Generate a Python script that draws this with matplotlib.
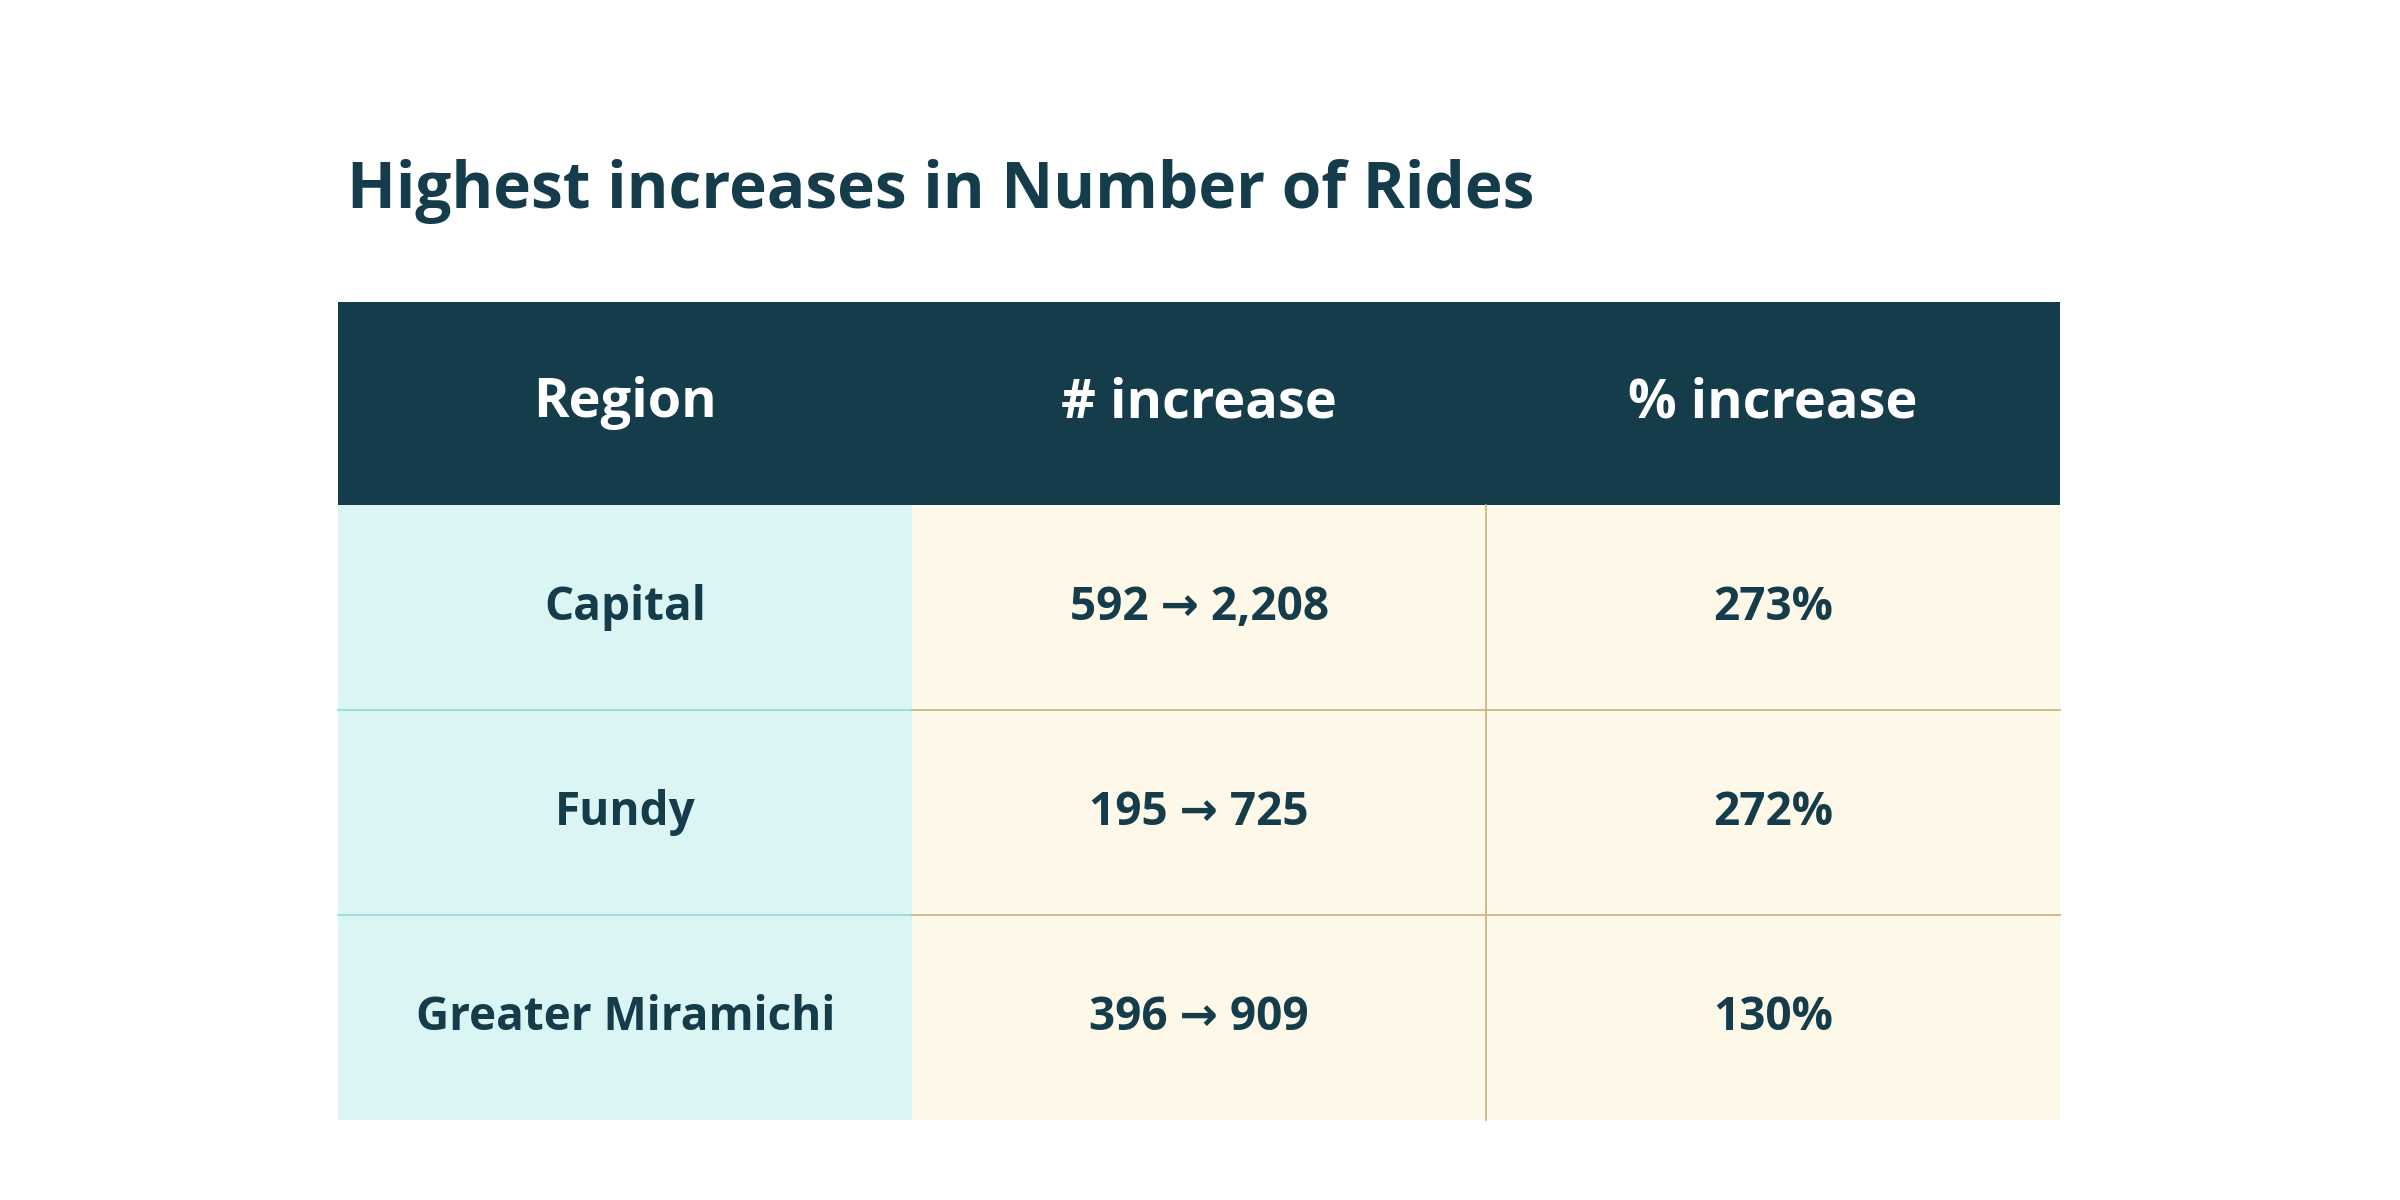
import matplotlib
matplotlib.use("Agg")
import matplotlib.pyplot as plt
from matplotlib.patches import Rectangle

title = "Highest increases in Number of Rides"
headers = ["Region", "# increase", "% increase"]
regions = ["Capital", "Fundy", "Greater Miramichi"]
before = [592, 195, 396]
after = [2208, 725, 909]
pct = [273, 272, 130]

DARK = "#143c4a"
CYAN = "#dbf5f5"
CREAM = "#fef8e8"
CYAN_LINE = "#8edcdc"
TAN_LINE = "#c9b07c"

fig = plt.figure(figsize=(24, 12), dpi=100)
ax = fig.add_axes([0, 0, 1, 1])
ax.set_xlim(0, 1568)
ax.set_ylim(784, 0)
ax.axis("off")
font = ["Open Sans", "DejaVu Sans"]

ax.text(227, 125, title, fontsize=46, fontweight="bold", color=DARK,
        family=font, va="center", ha="left")

x0, x1 = 221, 1346
colw = (x1 - x0) / 3
hy0, hy1 = 197, 330
rowh = 134
ax.add_patch(Rectangle((x0, hy0), x1 - x0, hy1 - hy0, color=DARK, lw=0))
for i, h in enumerate(headers):
    ax.text(x0 + colw * (i + 0.5), (hy0 + hy1) / 2, h, fontsize=39,
            fontweight="bold", color="white", family=font, ha="center", va="center")

for r, reg in enumerate(regions):
    y = hy1 + r * rowh
    ax.add_patch(Rectangle((x0, y), colw, rowh, color=CYAN, lw=0))
    ax.add_patch(Rectangle((x0 + colw, y), 2 * colw, rowh, color=CREAM, lw=0))
    vals = [reg, f"{before[r]:,} \u2192 {after[r]:,}", f"{pct[r]}%"]
    for i, v in enumerate(vals):
        ax.text(x0 + colw * (i + 0.5), y + rowh / 2, v, fontsize=33,
                fontweight="bold", color=DARK, family=font, ha="center", va="center")
    if r > 0:
        ax.plot([x0, x0 + colw], [y, y], color=CYAN_LINE, lw=1.2)
        ax.plot([x0 + colw, x1], [y, y], color=TAN_LINE, lw=1.2)

ax.plot([x0 + 2 * colw] * 2, [hy1, hy1 + 3 * rowh], color=TAN_LINE, lw=1.2)

fig.savefig("out.png", dpi=100, facecolor="white")
